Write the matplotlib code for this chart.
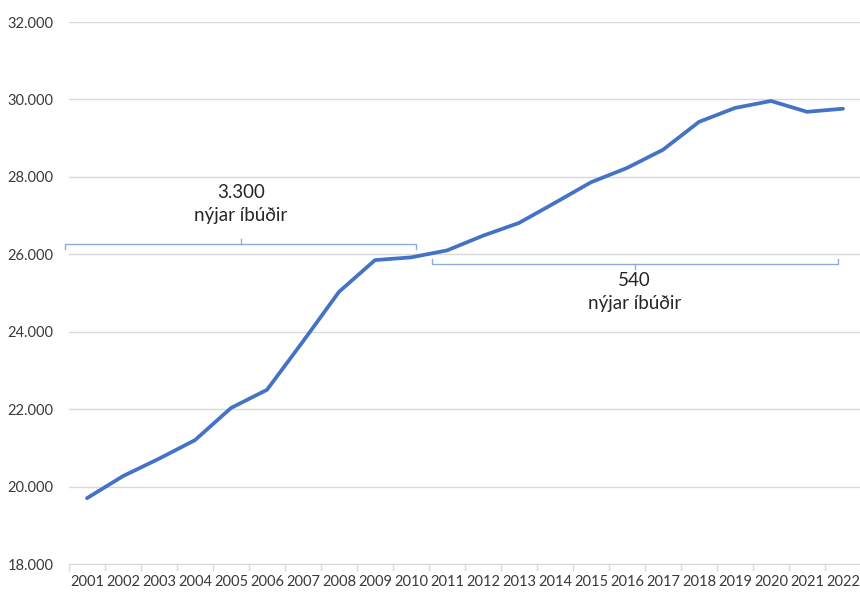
import matplotlib
matplotlib.use("Agg")
import matplotlib.pyplot as plt
import numpy as np

years = [str(y) for y in range(2001, 2023)]
dwellings = [19700, 20270, 20720, 21200, 22030, 22500, 23750, 25030, 25850, 25920,
             26100, 26480, 26810, 27330, 27860, 28230, 28700, 29420, 29780, 29960,
             29680, 29760]
yticks = [18000, 20000, 22000, 24000, 26000, 28000, 30000, 32000]

LINE = "#4472C4"
BRACKET = "#8FAADC"
GRID = "#D9D9D9"
TEXT = "#3A3A3A"

plt.rcParams["font.family"] = ["Lato", "DejaVu Sans"]

fig = plt.figure(figsize=(8.6, 5.92), dpi=100)
ax = fig.add_axes([69 / 860, 1 - 564 / 592, 792 / 860, (564 - 22) / 592])

x = np.arange(len(years))
ax.plot(x, dwellings, color=LINE, lw=2.7, solid_joinstyle="round", solid_capstyle="round")

ax.set_xlim(-0.5, len(years) - 0.5)
ax.set_ylim(18000, 32000)
ax.set_yticks(yticks)
ax.set_yticklabels([f"{v:,}".replace(",", ".") for v in yticks], fontsize=10.5, color=TEXT)
ax.set_xticks(x)
ax.set_xticklabels(years, fontsize=10.5, color=TEXT)
ax.set_xticks(np.arange(-0.5, len(years)), minor=True)
ax.tick_params(axis="x", which="major", length=0, pad=8)
ax.tick_params(axis="x", which="minor", length=5, color=GRID, width=1)
ax.tick_params(axis="y", length=0, pad=11)

ax.grid(axis="y", color=GRID, lw=1)
ax.set_axisbelow(True)
for s in ["top", "right", "left"]:
    ax.spines[s].set_visible(False)
ax.spines["bottom"].set_color(GRID)

# brackets (annotation shapes)
def bracket(x0, x1, y, tip, down_ends):
    d = -130 if down_ends else 130
    xm = (x0 + x1) / 2
    ax.plot([x0, x0, x1, x1], [y + d, y, y, y + d], color=BRACKET, lw=1, clip_on=False)
    ax.plot([xm, xm], [y, y + tip], color=BRACKET, lw=1, clip_on=False)
    return xm

ANN = "#262626"
xm1 = bracket(-0.61, 9.15, 26270, 130, True)
ax.text(xm1, 27590, "3.300", ha="center", va="center", fontsize=13.5, color=ANN)
ax.text(xm1, 26990, "nýjar íbúðir", ha="center", va="center", fontsize=13.5, color=ANN)

xm2 = bracket(9.57, 20.86, 25750, -130, False)
ax.text(xm2, 25310, "540", ha="center", va="center", fontsize=13.5, color=ANN)
ax.text(xm2, 24720, "nýjar íbúðir", ha="center", va="center", fontsize=13.5, color=ANN)

fig.savefig("out.png", dpi=100)
